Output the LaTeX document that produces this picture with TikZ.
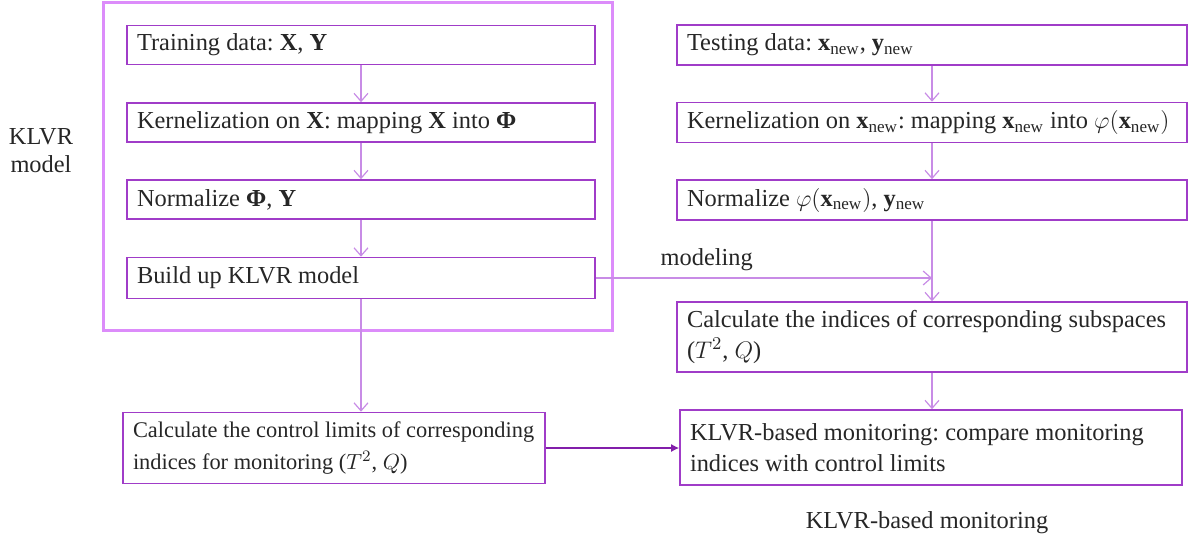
\documentclass[tikz,border=0pt]{standalone}
\usepackage{amsmath}
\usepackage{fontspec}
\setmainfont{Liberation Serif}
\frenchspacing
\usetikzlibrary{arrows.meta}
\definecolor{boxc}{RGB}{160,60,200}
\definecolor{arrc}{RGB}{200,140,230}
\definecolor{framec}{RGB}{220,140,250}
\definecolor{darkarr}{RGB}{130,30,170}
\newcommand{\xnw}{\textbf{x}$_{\text{new}}$}
\newcommand{\ynw}{\textbf{y}$_{\text{new}}$}
\tikzset{
  box/.style={draw=boxc, line width=0.8pt, align=flush left, inner xsep=5pt, inner ysep=0pt,
    font=\fontsize{12.2pt}{15.5pt}\selectfont\frenchspacing, text=black!85},
  lbox/.style={box, text width=224pt, minimum height=19.5pt},
  rbox/.style={box, text width=245pt, minimum height=20pt},
  flow/.style={draw=arrc, line width=0.6pt, -{Straight Barb[length=4pt,width=7pt]}},
  strong/.style={draw=darkarr, line width=0.7pt, -{Latex[length=4pt,width=4pt]}},
  lab/.style={font=\fontsize{12.2pt}{14pt}\selectfont, text=black!85, align=center},
}
\begin{document}
\begin{tikzpicture}[x=0.5pt,y=-0.5pt]
\useasboundingbox (0,0) rectangle (1192,541);
% frame
\node[draw=framec, line width=1.5pt, minimum width=254.5pt, minimum height=164pt, inner sep=0pt] (frame) at (357.5,166) {};
\node[lab] (klvrmodel) at (41,151) {KLVR\\model};
% left column
\node[lbox] (train) at (361,45) {Training data: \textbf{X}, \textbf{Y}};
\node[lbox] (kern) at (361,122.5) {Kernelization on \textbf{X}: mapping \textbf{X} into \textbf{Φ}};
\node[lbox] (norm) at (361,199.5) {Normalize \textbf{Φ}, \textbf{Y}};
\node[lbox, minimum height=20.5pt] (build) at (361,278) {Build up KLVR model};
\node[box, text width=201pt, minimum height=35.5pt, font=\fontsize{11.2pt}{16pt}\selectfont\frenchspacing] (limits) at (334,448) {Calculate the control limits of corresponding\\indices for monitoring ($T^2$, $Q$)};
% right column
\node[rbox] (test) at (932,45) {Testing data: \xnw, \ynw};
\node[rbox] (kern2) at (932,122.5) {Kernelization on \xnw: mapping \xnw{} into $\varphi($\xnw$)$};
\node[rbox] (norm2) at (932,200) {Normalize $\varphi($\xnw$)$, \ynw};
\node[rbox, minimum height=35pt] (calc) at (932,337) {Calculate the indices of corresponding subspaces\\($T^2$, $Q$)};
\node[box, text width=241pt, minimum height=37.5pt] (mon) at (931,447.5) {KLVR-based monitoring: compare monitoring\\indices with control limits};
\node[lab] (monlabel) at (927,523) {KLVR-based monitoring};
% connectors
\draw[flow] (train) -- (kern);
\draw[flow] (kern) -- (norm);
\draw[flow] (norm) -- (build);
\draw[flow] (build.south) -- (limits.north -| build.south);
\draw[flow] (test) -- (kern2);
\draw[flow] (kern2) -- (norm2);
\draw[flow] (norm2.south) -- (calc.north);
\draw[flow] (calc.south) -- (mon.north -| calc.south);
\coordinate (mjoin) at (build.east -| norm2.south);
\draw[flow] (build.east) -- (mjoin) node[pos=0.33, above=0pt, lab] (modlabel) {modeling};
\draw[strong] (limits.east) -- (limits.east -| mon.west);
\end{tikzpicture}
\end{document}
